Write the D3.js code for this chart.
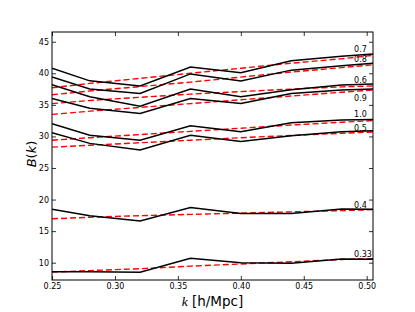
<!DOCTYPE html>
<html>
<head>
<meta charset="utf-8">
<script src="https://cdn.jsdelivr.net/npm/d3@7"></script>
<style>
    body { margin: 0; background: #fff; }
    text { font-family: "DejaVu Sans", sans-serif; }
</style>
</head>
<body>
<div id="chart-container"></div>
<script>
// k values where the curves are sampled
const kValues = [0.25, 0.28, 0.32, 0.36, 0.40, 0.44, 0.48, 0.505];

// measured B(k) (solid black)
const measured07 = [40.8, 38.8, 38.0, 41.0, 40.1, 42.0, 42.7, 43.05];
const measured08 = [39.4, 37.5, 36.8, 39.9, 38.8, 40.5, 41.2, 41.6];
const measured06 = [38.2, 36.3, 34.8, 37.5, 36.3, 37.4, 38.15, 38.3];
const measured09 = [36.0, 34.45, 33.65, 36.0, 35.2, 36.8, 37.35, 37.5];
const measured10 = [32.0, 30.2, 29.4, 31.7, 30.75, 32.15, 32.6, 32.7];
const measured05 = [30.6, 28.9, 27.85, 30.2, 29.2, 30.1, 30.75, 30.9];
const measured04 = [18.45, 17.45, 16.6, 18.75, 17.8, 17.8, 18.5, 18.45];
const measured033 = [8.57, 8.57, 8.5, 10.7, 10.0, 9.9, 10.6, 10.55];

// model curves (dashed red)
const model07 = [37.7, 38.4, 39.2, 40.0, 40.8, 41.6, 42.3, 42.85];
const model08 = [36.6, 37.2, 37.9, 38.6, 39.4, 40.2, 40.9, 41.35];
const model06 = [35.2, 35.7, 36.2, 36.7, 37.1, 37.5, 37.85, 38.0];
const model09 = [33.5, 34.0, 34.6, 35.2, 35.8, 36.4, 37.0, 37.35];
const model10 = [29.4, 29.8, 30.3, 30.8, 31.3, 31.8, 32.25, 32.5];
const model05 = [28.3, 28.6, 29.0, 29.4, 29.8, 30.15, 30.5, 30.7];
const model04 = [16.95, 17.2, 17.45, 17.65, 17.85, 18.05, 18.25, 18.4];
const model033 = [8.5, 8.75, 9.05, 9.45, 9.8, 10.15, 10.5, 10.65];

// curve labels and where they sit (k, B)
const labelNames = ["0.7", "0.8", "0.6", "0.9", "1.0", "0.5", "0.4", "0.33"];
const labelK = 0.49;
const labelB = [43.3, 41.8, 38.4, 35.6, 33.0, 30.9, 18.6, 10.95];

const xTicks = [0.25, 0.30, 0.35, 0.40, 0.45, 0.50];
const yTicks = [10, 15, 20, 25, 30, 35, 40, 45];

const measuredSeries = [measured07, measured08, measured06, measured09, measured10, measured05, measured04, measured033];
const modelSeries = [model07, model08, model06, model09, model10, model05, model04, model033];

const W = 415, H = 312;
const margin = {top: 32, right: 42, bottom: 32, left: 52};
const width = W - margin.left - margin.right;
const height = H - margin.top - margin.bottom;

const x = d3.scaleLinear().domain([0.25, 0.505]).range([0, width]);
const y = d3.scaleLinear().domain([7.26, 46.54]).range([height, 0]);

const svg = d3.select("#chart-container")
    .append("svg")
    .attr("width", W)
    .attr("height", H);

svg.append("defs").append("clipPath")
    .attr("id", "plot-clip")
    .append("rect")
    .attr("width", width)
    .attr("height", height);

const g = svg.append("g")
    .attr("transform", "translate(" + margin.left + "," + margin.top + ")");

const line = d3.line()
    .x((d, i) => x(kValues[i]))
    .y(d => y(d));

const plot = g.append("g").attr("clip-path", "url(#plot-clip)");

plot.selectAll("path.model")
    .data(modelSeries)
    .join("path")
    .attr("class", "model")
    .attr("fill", "none")
    .attr("stroke", "#ff0000")
    .attr("stroke-width", 1.4)
    .attr("stroke-dasharray", "6,3")
    .attr("d", line);

plot.selectAll("path.measured")
    .data(measuredSeries)
    .join("path")
    .attr("class", "measured")
    .attr("fill", "none")
    .attr("stroke", "#000")
    .attr("stroke-width", 1.5)
    .attr("stroke-linejoin", "miter")
    .attr("d", line);

g.selectAll("text.curve-label")
    .data(labelNames)
    .join("text")
    .attr("class", "curve-label")
    .attr("x", x(labelK))
    .attr("y", (d, i) => y(labelB[i]))
    .attr("font-size", 8)
    .attr("fill", "#000")
    .text(d => d);

// axes, matplotlib style: ticks inside on all four sides
const tickLen = 4;
const fmtX = d3.format(".2f");

g.append("g")
    .attr("transform", "translate(0," + height + ")")
    .call(d3.axisBottom(x).tickValues(xTicks).tickFormat(fmtX).tickSizeInner(-tickLen).tickSizeOuter(0).tickPadding(3.5))
    .call(a => a.select(".domain").remove());
g.append("g")
    .call(d3.axisTop(x).tickValues(xTicks).tickFormat("").tickSizeInner(-tickLen).tickSizeOuter(0))
    .call(a => a.select(".domain").remove());
g.append("g")
    .call(d3.axisLeft(y).tickValues(yTicks).tickFormat(d3.format("d")).tickSizeInner(-tickLen).tickSizeOuter(0).tickPadding(3))
    .call(a => a.select(".domain").remove());
g.append("g")
    .attr("transform", "translate(" + width + ",0)")
    .call(d3.axisRight(y).tickValues(yTicks).tickFormat("").tickSizeInner(-tickLen).tickSizeOuter(0))
    .call(a => a.select(".domain").remove());

g.selectAll(".tick text")
    .attr("font-family", "DejaVu Sans")
    .attr("font-size", 8)
    .attr("fill", "#000");
g.selectAll(".tick line")
    .attr("stroke", "#000")
    .attr("stroke-width", 0.8);

g.append("rect")
    .attr("width", width)
    .attr("height", height)
    .attr("fill", "none")
    .attr("stroke", "#000")
    .attr("stroke-width", 1);

// axis labels
const xLabel = svg.append("text")
    .attr("x", margin.left + width / 2)
    .attr("y", 306)
    .attr("text-anchor", "middle")
    .attr("font-size", 13.5);
xLabel.append("tspan")
    .attr("font-family", "Liberation Serif")
    .attr("font-style", "italic")
    .text("k");
xLabel.append("tspan").text(" [h/Mpc]");

const yLabel = svg.append("text")
    .attr("transform", "translate(36," + (margin.top + height / 2 - 2) + ") rotate(-90)")
    .attr("text-anchor", "middle")
    .attr("font-family", "Liberation Serif")
    .attr("font-style", "italic")
    .attr("font-size", 13);
yLabel.append("tspan").text("B");
yLabel.append("tspan").attr("font-style", "normal").text("(");
yLabel.append("tspan").text("k");
yLabel.append("tspan").attr("font-style", "normal").text(")");
</script>
</body>
</html>
